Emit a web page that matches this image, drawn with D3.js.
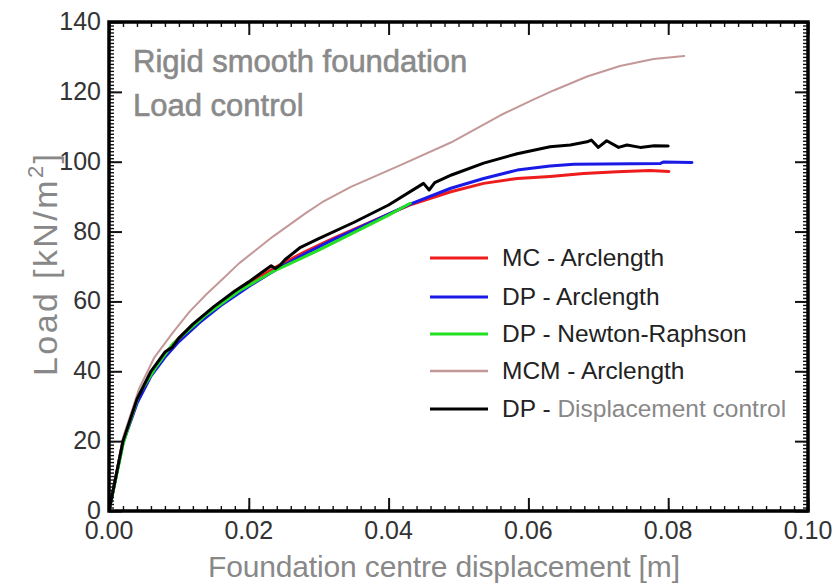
<!DOCTYPE html>
<html><head><meta charset="utf-8">
<script src="https://cdn.jsdelivr.net/npm/d3@7"></script>
<style>body{margin:0;background:#fff}svg{display:block}</style>
</head><body><svg id="c" width="838" height="583"></svg>
<script>
// ---- data (displacement [m], load [kN/m^2]) ----
const xTicks = [0.00, 0.02, 0.04, 0.06, 0.08, 0.10];
const yTicks = [0, 20, 40, 60, 80, 100, 120, 140];
const seriesNames = ["MC - Arclength", "DP - Arclength", "DP - Newton-Raphson", "MCM - Arclength", "DP - Displacement control"];
const seriesColors = ["#ee1c1c", "#1a1ae6", "#22e022", "#c49898", "#000000"];

const mcX  = [0, 0.002, 0.004, 0.006, 0.008, 0.010, 0.013, 0.016, 0.020, 0.024, 0.028, 0.032, 0.036, 0.040, 0.043, 0.0489, 0.0536, 0.0584, 0.0631, 0.0679, 0.0727, 0.0774, 0.0801];
const mcY  = [0, 20, 31.5, 39.5, 45, 49.5, 55, 59.8, 65.2, 70, 74.2, 78, 81.5, 85, 87.6, 91.4, 93.8, 95.2, 95.8, 96.6, 97.1, 97.5, 97.2];
const dpX  = [0, 0.002, 0.004, 0.006, 0.008, 0.010, 0.013, 0.016, 0.020, 0.024, 0.028, 0.032, 0.036, 0.040, 0.043, 0.0489, 0.0536, 0.0584, 0.0631, 0.0665, 0.0789, 0.0793, 0.0834];
const dpY  = [0, 19.5, 30.8, 38.6, 44, 48.5, 54, 58.8, 64.3, 69.2, 73.6, 77.6, 81.3, 85, 87.8, 92.4, 95.2, 97.6, 98.8, 99.3, 99.5, 99.9, 99.8];
const nrX  = [0, 0.002, 0.0029, 0.0043, 0.0067, 0.0091, 0.0139, 0.0186, 0.0234, 0.0281, 0.030, 0.0353, 0.040, 0.0431];
const nrY  = [0, 19, 25, 33.5, 41.2, 47.8, 56.2, 63, 68.5, 72.9, 74.7, 80, 84.7, 88.1];
const mcmX = [0, 0.002, 0.0043, 0.0065, 0.0091, 0.0115, 0.0139, 0.0163, 0.0186, 0.0234, 0.0281, 0.0305, 0.0346, 0.0417, 0.0489, 0.056, 0.0607, 0.0636, 0.0684, 0.0731, 0.0779, 0.0823];
const mcmY = [0, 21, 35, 44, 51, 57, 62, 66.5, 70.9, 78.5, 85.2, 88.4, 92.8, 99, 105.5, 113.3, 117.8, 120.4, 124.4, 127.4, 129.4, 130.3];
const bkX  = [0, 0.002, 0.004, 0.006, 0.008, 0.009, 0.010, 0.012, 0.015, 0.018, 0.020, 0.022, 0.0232, 0.0238, 0.0245, 0.0252, 0.0274, 0.030, 0.035, 0.040, 0.045, 0.0458, 0.0466, 0.049, 0.0536, 0.0584, 0.0631, 0.066, 0.0684, 0.069, 0.070, 0.0712, 0.0729, 0.0741, 0.076, 0.078, 0.080];
const bkY  = [0, 20, 32, 40, 45.5, 46.8, 49.5, 53.5, 58.5, 63, 65.6, 68.5, 70.2, 69.4, 70.4, 72, 75.5, 78, 82.6, 87.6, 93.8, 91.9, 94, 96.2, 99.6, 102.3, 104.3, 104.8, 105.7, 106.2, 104.1, 106, 104.1, 104.8, 104.1, 104.6, 104.5];

const seriesX = [mcX, dpX, nrX, mcmX, bkX];
const seriesY = [mcY, dpY, nrY, mcmY, bkY];
const seriesW = [3, 3, 3, 2, 3];

const svg = d3.select("#c");
const L = 109, R = 808, T = 22, B = 511;
const x = d3.scaleLinear().domain([0, 0.10]).range([L, R]);
const y = d3.scaleLinear().domain([0, 140]).range([B, T]);
const font = "'Liberation Sans', Arial, Helvetica, sans-serif";

// curves (clipped to plot area)
svg.append("clipPath").attr("id", "clip").append("rect").attr("x", L).attr("y", T).attr("width", R - L).attr("height", B - T);
const line = d3.line().x(d => x(d[0])).y(d => y(d[1]));
const gLines = svg.append("g").attr("clip-path", "url(#clip)");
seriesX.forEach((xs, i) => {
  const pts = xs.map((v, j) => [v, seriesY[i][j]]);
  gLines.append("path").attr("d", line(pts)).attr("fill", "none")
    .attr("stroke", seriesColors[i]).attr("stroke-width", seriesW[i])
    .attr("stroke-linejoin", "round").attr("stroke-linecap", "round");
});

// ticks (inward, all four sides)
const xMinor = d3.range(0, 0.1001, 0.002);
const yMinor = d3.range(0, 140.01, 1);
const axB = d3.axisBottom(x).tickValues(xMinor).tickSize(-5).tickFormat("");
const axT = d3.axisTop(x).tickValues(xMinor).tickSize(-5).tickFormat("");
const axL = d3.axisLeft(y).tickValues(yMinor).tickSize(-5).tickFormat("");
const axR = d3.axisRight(y).tickValues(yMinor).tickSize(-5).tickFormat("");
[[axB, `translate(0,${B})`], [axT, `translate(0,${T})`], [axL, `translate(${L},0)`], [axR, `translate(${R},0)`]].forEach(([a, tr]) => {
  const g = svg.append("g").attr("transform", tr).call(a);
  g.select(".domain").remove();
  g.selectAll("line").attr("stroke", "#111").attr("stroke-width", 1.4);
});
const majB = d3.axisBottom(x).tickValues(xTicks).tickSize(-13).tickFormat("");
const majT = d3.axisTop(x).tickValues(xTicks).tickSize(-13).tickFormat("");
const majL = d3.axisLeft(y).tickValues(yTicks).tickSize(-13).tickFormat("");
const majR = d3.axisRight(y).tickValues(yTicks).tickSize(-13).tickFormat("");
[[majB, `translate(0,${B})`], [majT, `translate(0,${T})`], [majL, `translate(${L},0)`], [majR, `translate(${R},0)`]].forEach(([a, tr]) => {
  const g = svg.append("g").attr("transform", tr).call(a);
  g.select(".domain").remove();
  g.selectAll("line").attr("stroke", "#111").attr("stroke-width", 2);
});

// frame
svg.append("rect").attr("x", L).attr("y", T).attr("width", R - L).attr("height", B - T)
  .attr("fill", "none").attr("stroke", "#000").attr("stroke-width", 3.5);

// tick labels
svg.append("g").selectAll("text").data(xTicks).join("text")
  .attr("x", d => x(d)).attr("y", B + 28).attr("text-anchor", "middle")
  .attr("font-family", font).attr("font-size", 25).attr("fill", "#333")
  .text(d => d3.format(".2f")(d));
svg.append("g").selectAll("text").data(yTicks).join("text")
  .attr("x", L - 8).attr("y", d => y(d) + 8).attr("text-anchor", "end")
  .attr("font-family", font).attr("font-size", 25).attr("fill", "#333")
  .text(d => d);

// axis titles
svg.append("text").attr("x", 444).attr("y", 577).attr("text-anchor", "middle")
  .attr("font-family", font).attr("font-size", 30).attr("fill", "#888")
  .attr("textLength", 472).attr("lengthAdjust", "spacing")
  .text("Foundation centre displacement [m]");
const yt = svg.append("text").attr("transform", "translate(57,265) rotate(-90)").attr("text-anchor", "middle")
  .attr("font-family", font).attr("font-size", 34).attr("fill", "#888")
  .attr("textLength", 222).attr("lengthAdjust", "spacing");
yt.append("tspan").text("Load [kN/m");
yt.append("tspan").attr("dy", -14).attr("font-size", 22).text("2");
yt.append("tspan").attr("dy", 14).text("]");

// annotations
svg.append("text").attr("x", 133).attr("y", 72).attr("font-family", font).attr("font-size", 31)
  .attr("fill", "#8a8a8a").attr("stroke", "#8a8a8a").attr("stroke-width", 0.6).text("Rigid smooth foundation");
svg.append("text").attr("x", 133).attr("y", 116).attr("font-family", font).attr("font-size", 31)
  .attr("fill", "#8a8a8a").attr("stroke", "#8a8a8a").attr("stroke-width", 0.6).text("Load control");

// legend
const legY = [258, 297, 334, 371, 409];
const lg = svg.append("g");
seriesNames.forEach((n, i) => {
  lg.append("line").attr("x1", 430).attr("x2", 488).attr("y1", legY[i]).attr("y2", legY[i])
    .attr("stroke", seriesColors[i]).attr("stroke-width", seriesW[i] === 2 ? 2.5 : 3);
  const t = lg.append("text").attr("x", 502).attr("y", legY[i] + 8)
    .attr("font-family", font).attr("font-size", 24.5).attr("fill", "#222");
  if (i === 4) {
    t.append("tspan").text("DP - ");
    t.append("tspan").attr("fill", "#888").text("Displacement control");
  } else t.text(n);
});
</script></body></html>
